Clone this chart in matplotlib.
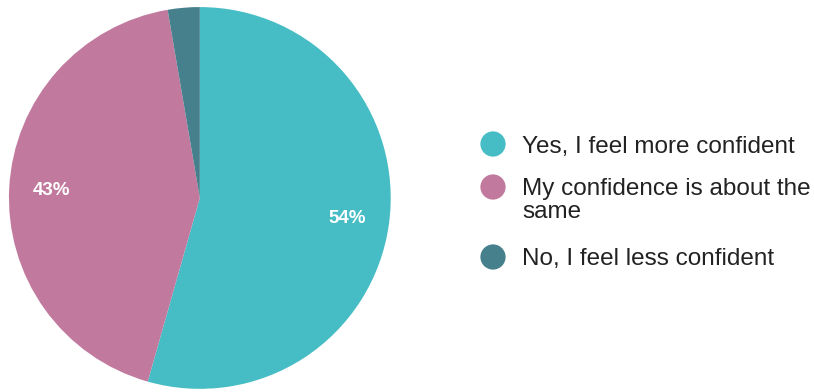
import matplotlib.pyplot as plt

plt.rcParams['font.family'] = ['Liberation Sans', 'DejaVu Sans']

labels = ['Yes, I feel more confident', 'My confidence is about the\nsame', 'No, I feel less confident']
values = [54.4, 42.9, 2.7]
colors = ['#46BCC5', '#C17A9E', '#45808C']

fig = plt.figure(figsize=(8.14, 3.92), dpi=100)
ax = fig.add_axes([0.011, 0.008, 0.469, 0.974])

def pct(p):
    return f'{p:.0f}%' if p > 5 else ''

wedges, texts, autotexts = ax.pie(values, colors=colors, startangle=90, counterclock=False,
                                  autopct=pct, pctdistance=0.78,
                                  textprops={'color': 'white', 'fontsize': 13.5, 'fontweight': 'bold'})
ax.set_xlim(-1, 1)
ax.set_ylim(-1, 1)
ax.set_aspect('equal')

# legend drawn by hand so the marker sits on the first text line
lax = fig.add_axes([0, 0, 1, 1])
lax.set_xlim(0, 814)
lax.set_ylim(392, 0)
lax.axis('off')
line_h = 22
y = 144
for lab, c in zip(labels, colors):
    extra = lab.count('\n')
    lax.scatter([493], [y], s=330, color=c, edgecolors='none')
    # baseline alignment uses the last line, so shift down for wrapped labels
    lax.text(522, y + 8.5 + line_h * extra, lab, fontsize=17.5, color='#222222', ha='left',
             va='baseline', linespacing=1.05)
    y += 43 + 27 * extra

fig.savefig('out.png', dpi=100)
